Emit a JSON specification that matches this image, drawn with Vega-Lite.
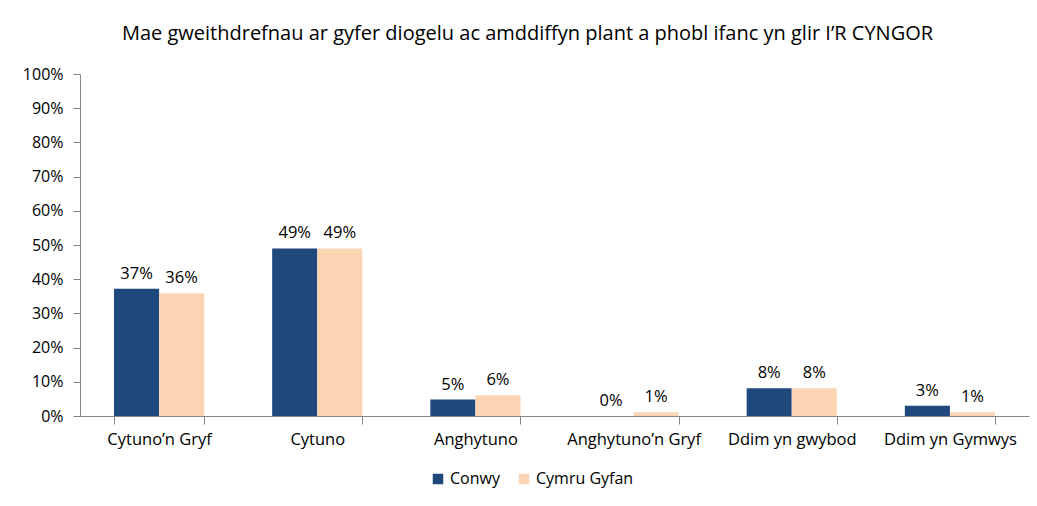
{
  "$schema": "https://vega.github.io/schema/vega-lite/v6.json",
  "autosize": "none",
  "width": 949,
  "height": 342,
  "padding": {"left": 80, "top": 74, "right": 8, "bottom": 90},
  "background": "white",
  "title": {
    "text": "Mae gweithdrefnau ar gyfer diogelu ac amddiffyn plant a phobl ifanc yn glir I’R CYNGOR",
    "font": "Open Sans",
    "fontSize": 20,
    "fontWeight": "normal",
    "color": "black",
    "anchor": "middle",
    "dx": -27,
    "offset": 22
  },
  "config": {
    "view": {"stroke": null},
    "font": "Open Sans",
    "axis": {
      "labelFont": "Open Sans",
      "labelColor": "black",
      "domainColor": "#868686",
      "tickColor": "#868686",
      "grid": false,
      "title": null
    }
  },
  "data": {
    "values": [
      {"category": "Cytuno’n Gryf", "series": "Conwy", "value": 0.372},
      {"category": "Cytuno’n Gryf", "series": "Cymru Gyfan", "value": 0.359},
      {"category": "Cytuno", "series": "Conwy", "value": 0.49},
      {"category": "Cytuno", "series": "Cymru Gyfan", "value": 0.49},
      {"category": "Anghytuno", "series": "Conwy", "value": 0.048},
      {"category": "Anghytuno", "series": "Cymru Gyfan", "value": 0.061},
      {"category": "Anghytuno’n  Gryf", "series": "Conwy", "value": 0.0},
      {"category": "Anghytuno’n  Gryf", "series": "Cymru Gyfan", "value": 0.011},
      {"category": "Ddim yn gwybod", "series": "Conwy", "value": 0.081},
      {"category": "Ddim yn gwybod", "series": "Cymru Gyfan", "value": 0.081},
      {"category": "Ddim yn Gymwys", "series": "Conwy", "value": 0.03},
      {"category": "Ddim yn Gymwys", "series": "Cymru Gyfan", "value": 0.011}
    ]
  },
  "encoding": {
    "x": {
      "field": "category",
      "type": "nominal",
      "sort": null,
      "scale": {"paddingInner": 0.43, "paddingOuter": 0.215},
      "axis": {
        "labelAngle": 0,
        "tickBand": "extent",
        "tickSize": 8,
        "labelPadding": 7,
        "labelFontSize": 16.5
      }
    },
    "xOffset": {"field": "series", "type": "nominal", "sort": ["Conwy", "Cymru Gyfan"]},
    "y": {
      "field": "value",
      "type": "quantitative",
      "scale": {"domain": [0, 1]},
      "axis": {
        "format": ".0%",
        "values": [0, 0.1, 0.2, 0.3, 0.4, 0.5, 0.6, 0.7, 0.8, 0.9, 1],
        "tickSize": 7,
        "labelPadding": 10,
        "labelFontSize": 16
      }
    }
  },
  "layer": [
    {
      "mark": {"type": "bar"},
      "encoding": {
        "color": {
          "field": "series",
          "type": "nominal",
          "sort": ["Conwy", "Cymru Gyfan"],
          "scale": {"domain": ["Conwy", "Cymru Gyfan"], "range": ["#1F497D", "#FBD4B4"]},
          "legend": {
            "title": null,
            "orient": "none",
            "direction": "horizontal",
            "legendX": 350,
            "legendY": 397,
            "symbolType": "square",
            "symbolSize": 110,
            "symbolStrokeWidth": 0,
            "labelFont": "Open Sans",
            "labelFontSize": 16,
            "labelColor": "black",
            "columnPadding": 16
          }
        }
      }
    },
    {
      "mark": {"type": "text", "baseline": "bottom", "dy": -7, "fontSize": 16.5, "font": "Open Sans", "color": "black"},
      "encoding": {
        "text": {"field": "value", "type": "quantitative", "format": ".0%"}
      }
    }
  ]
}
